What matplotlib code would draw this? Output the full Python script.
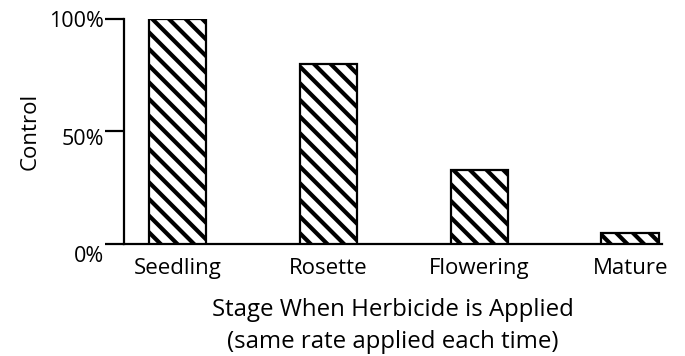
import numpy as np
import matplotlib.pyplot as plt
import matplotlib.transforms as mtransforms

stages = ['Seedling', 'Rosette', 'Flowering', 'Mature']
control = [100, 80, 33, 5]
y_ticks = [0, 50, 100]
y_labels = ['0%', '50%', '100%']

plt.rcParams['font.family'] = ['Open Sans', 'DejaVu Sans']
plt.rcParams['hatch.linewidth'] = 3.0
plt.rcParams['hatch.color'] = 'black'

fig = plt.figure(figsize=(6.85, 3.56), dpi=100)
ax = fig.add_axes([0.181, 0.315, 0.785, 0.632])

x = np.arange(len(stages))
ax.bar(x, control, width=0.38, color='white', edgecolor='black',
       linewidth=1.6, hatch='\\\\', zorder=3)

ax.set_xlim(-0.354, 3.209)
ax.set_ylim(0, 100)

for s in ['top', 'right']:
    ax.spines[s].set_visible(False)
for s in ['left', 'bottom']:
    ax.spines[s].set_linewidth(1.6)

ax.set_yticks(y_ticks)
ax.set_yticklabels(y_labels, fontsize=15.5)
ax.tick_params(axis='y', length=13.5, width=1.6, pad=1)
ax.set_xticks(x)
ax.set_xticklabels(stages, fontsize=16)
ax.tick_params(axis='x', length=0, pad=10)

# 0% and 50% labels sit a bit lower in the original
lab0 = ax.get_yticklabels()[0]
lab0.set_transform(lab0.get_transform() +
                   mtransforms.ScaledTranslation(0, -7 / 72, fig.dpi_scale_trans))
lab50 = ax.get_yticklabels()[1]
lab50.set_transform(lab50.get_transform() +
                    mtransforms.ScaledTranslation(0, -4 / 72, fig.dpi_scale_trans))

ax.set_ylabel('Control', fontsize=16, labelpad=6)
ax.set_xlabel('Stage When Herbicide is Applied\n(same rate applied each time)',
              fontsize=17.3, labelpad=14, linespacing=1.45)

fig.savefig('out.png', dpi=100)
